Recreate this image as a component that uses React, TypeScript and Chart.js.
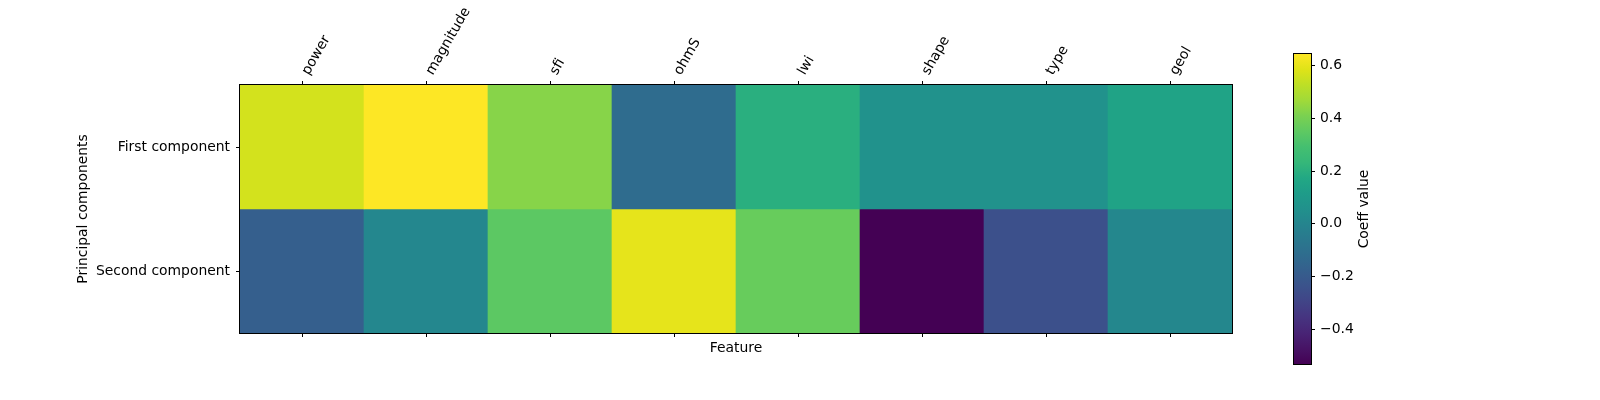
import React, { useEffect, useRef } from "react";
import { Chart, registerables } from "chart.js";
Chart.register(...registerables);

const FEATURES = ["power", "magnitude", "sfi", "ohmS", "lwi", "shape", "type", "geol"];
const COMPONENTS = ["First component", "Second component"];
const FIRST_COMPONENT = [0.565, 0.645, 0.43, -0.12, 0.2, 0.06, 0.06, 0.15];
const SECOND_COMPONENT = [-0.18, 0.01, 0.345, 0.6, 0.37, -0.533, -0.245, 0.012];
const ROWS = [FIRST_COMPONENT, SECOND_COMPONENT];
const CB_TICKS = [-0.4, -0.2, 0, 0.2, 0.4, 0.6];
const X_TITLE = "Feature";
const Y_TITLE = "Principal components";
const CB_TITLE = "Coeff value";

const VIRIDIS = [
  "#440154", "#471365", "#482475", "#463480", "#414487", "#3b528b", "#355f8d",
  "#2f6c8e", "#2a788e", "#25848e", "#21918c", "#1e9c89", "#22a884", "#35b779",
  "#44bf70", "#5ec962", "#7ad151", "#a0da39", "#bddf26", "#dfe318", "#fde725",
];
const hexRgb = (h: string) => [1, 3, 5].map((i) => parseInt(h.slice(i, i + 2), 16));
const VIR_RGB = VIRIDIS.map(hexRgb);
function viridis(t: number): string {
  const c = Math.max(0, Math.min(1, t)) * (VIR_RGB.length - 1);
  const i = Math.min(Math.floor(c), VIR_RGB.length - 2);
  const f = c - i;
  const a = VIR_RGB[i], b = VIR_RGB[i + 1];
  const m = a.map((v, k) => Math.round(v + (b[k] - v) * f));
  return `rgb(${m[0]},${m[1]},${m[2]})`;
}

const ALL = ROWS.flat();
const VMIN = Math.min(...ALL);
const VMAX = Math.max(...ALL);
const norm = (v: number) => (v - VMIN) / (VMAX - VMIN);

const FONT = { family: "'DejaVu Sans', sans-serif", size: 13.9 };

const framePlugin = {
  id: "frame",
  afterDraw(chart: any) {
    const { ctx, chartArea } = chart;
    ctx.save();
    ctx.strokeStyle = "#000";
    ctx.lineWidth = 1;
    const l = Math.round(chartArea.left) - 0.5;
    const t = Math.round(chartArea.top) - 0.5;
    const r = Math.round(chartArea.right) + 0.5;
    const b = Math.round(chartArea.bottom) + 0.5;
    ctx.strokeRect(l, t, r - l, b - t);
    ctx.restore();
  },
};

const cbTitlePlugin = {
  id: "cbTitle",
  afterDraw(chart: any) {
    const { ctx, chartArea } = chart;
    ctx.save();
    ctx.fillStyle = "#000";
    ctx.font = `${FONT.size}px ${FONT.family}`;
    ctx.textAlign = "center";
    ctx.textBaseline = "middle";
    ctx.translate(164, (chartArea.top + chartArea.bottom) / 2);
    ctx.rotate(-Math.PI / 2);
    ctx.fillText(CB_TITLE, 0, 0);
    ctx.restore();
  },
};

export default function App() {
  const mainRef = useRef<HTMLCanvasElement>(null);
  const cbRef = useRef<HTMLCanvasElement>(null);

  useEffect(() => {
    const n = ROWS.length;
    const main = new Chart(mainRef.current!, {
      type: "bar",
      data: {
        labels: FEATURES,
        datasets: ROWS.map((vals, i) => ({
          label: COMPONENTS[i],
          data: vals.map(() => [n - 1 - i, n - i]),
          backgroundColor: vals.map((v) => viridis(norm(v))),
          borderColor: vals.map((v) => viridis(norm(v))),
          borderWidth: 0,
          grouped: false,
          barPercentage: 1,
          categoryPercentage: 1,
          xAxisID: "x",
          yAxisID: "y",
        })) as any,
      },
      options: {
        responsive: false,
        animation: false,
        layout: { padding: { left: 68, right: 368, top: 0, bottom: 0 } },
        plugins: { legend: { display: false }, tooltip: { enabled: false } },
        scales: {
          x: {
            type: "category",
            position: "top",
            offset: true,
            grid: { display: true, drawOnChartArea: false, color: "#000", tickLength: 4, offset: false },
            border: { display: false },
            ticks: { color: "#000", font: FONT, minRotation: 60, maxRotation: 60, padding: 3, labelOffset: 18 },
            afterFit: (s: any) => { s.height = 85; },
          },
          x2: {
            type: "category",
            position: "bottom",
            offset: true,
            grid: { display: true, drawOnChartArea: false, color: "#000", tickLength: 4, offset: false },
            border: { display: false },
            ticks: { display: false },
            title: { display: true, text: X_TITLE, color: "#000", font: FONT, padding: { top: 0, bottom: 43 } },
            afterFit: (s: any) => { s.height = 67; },
          },
          y: {
            type: "linear",
            position: "left",
            min: 0,
            max: n,
            afterBuildTicks: (s: any) => {
              s.ticks = COMPONENTS.map((_, i) => ({ value: n - i - 0.5 }));
            },
            grid: { display: true, drawOnChartArea: false, color: "#000", tickLength: 4 },
            border: { display: false },
            ticks: {
              color: "#000",
              font: FONT,
              padding: 6,
              callback: (v: any) => COMPONENTS[Math.round(n - 0.5 - Number(v))],
            },
            title: { display: true, text: Y_TITLE, color: "#000", font: FONT, padding: { top: 7, bottom: 0 } },
            afterFit: (s: any) => { s.width = 172; },
          },
        },
      } as any,
      plugins: [framePlugin],
    });

    const cb = new Chart(cbRef.current!, {
      type: "bar",
      data: {
        labels: [""],
        datasets: [
          {
            data: [[VMIN, VMAX]] as any,
            backgroundColor: (ctx: any) => {
              const area = ctx.chart.chartArea;
              if (!area) return VIRIDIS[10];
              const g = ctx.chart.ctx.createLinearGradient(0, area.bottom, 0, area.top);
              VIRIDIS.forEach((c, i) => g.addColorStop(i / (VIRIDIS.length - 1), c));
              return g;
            },
            borderWidth: 0,
            barPercentage: 1,
            categoryPercentage: 1,
          },
        ],
      },
      options: {
        responsive: false,
        animation: false,
        layout: { padding: { left: 94, right: 79, top: 54, bottom: 36 } },
        plugins: { legend: { display: false }, tooltip: { enabled: false } },
        scales: {
          x: { display: false, offset: true },
          y: {
            type: "linear",
            position: "right",
            min: VMIN,
            max: VMAX,
            afterBuildTicks: (s: any) => {
              s.ticks = CB_TICKS.map((v) => ({ value: v }));
            },
            grid: { display: true, drawOnChartArea: false, color: "#000", tickLength: 4 },
            border: { display: false },
            ticks: {
              color: "#000",
              font: FONT,
              padding: 5,
              callback: (v: any) => {
                const x = Number(v);
                const s = Math.abs(x).toFixed(1);
                return x < -1e-9 ? "\u2212" + s : s;
              },
            },
            afterFit: (s: any) => { s.width = 60; },
          },
        },
      } as any,
      plugins: [framePlugin, cbTitlePlugin],
    });

    return () => {
      main.destroy();
      cb.destroy();
    };
  }, []);

  return (
    <div style={{ position: "absolute", left: 0, top: 0, width: 1600, height: 400, background: "#fff" }}>
      <canvas ref={mainRef} width={1600} height={400} style={{ position: "absolute", left: 0, top: 0 }} />
      <canvas ref={cbRef} width={250} height={400} style={{ position: "absolute", left: 1200, top: 0 }} />
    </div>
  );
}
